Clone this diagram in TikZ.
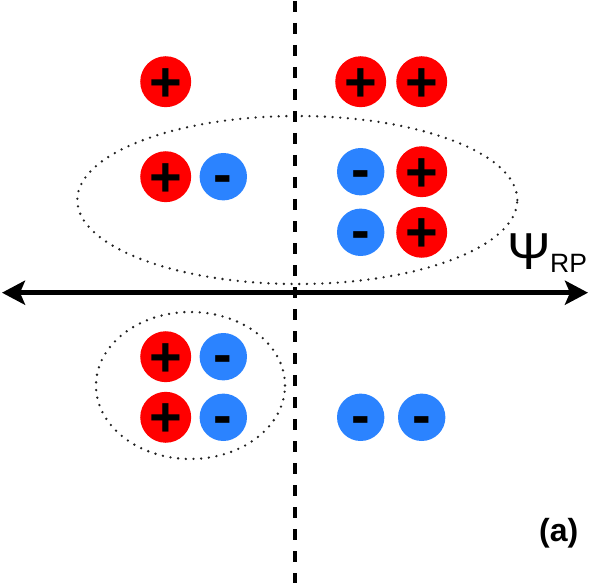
\documentclass[tikz,border=0pt]{standalone}
\usepackage{fontspec}
\setmainfont{Liberation Sans}
\usetikzlibrary{arrows.meta}
\definecolor{cred}{HTML}{FF0000}
\definecolor{cblue}{HTML}{2B83FF}
\definecolor{cdot}{HTML}{222222}
\tikzset{
  chg/.style={circle, minimum size=47.4pt, inner sep=0pt, text=black,
    font=\fontsize{56}{56}\selectfont\bfseries},
  poschg/.style={chg, fill=cred, text height=39pt, text depth=0pt},
  negchg/.style={chg, fill=cblue, text height=34pt, text depth=0pt},
  dotline/.style={draw=cdot, line width=2.6pt, line cap=round, dash pattern=on 0pt off 7.7pt},
  vdash/.style={line width=3.6pt, dash pattern=on 10.7pt off 11.3pt},
  axis/.style={line width=4.6pt, {Stealth[length=23pt,width=24pt,inset=5pt]}-{Stealth[length=23pt,width=24pt,inset=5pt]}},
}
\begin{document}
\begin{tikzpicture}[x=1pt,y=-1pt]
\useasboundingbox (0,0) rectangle (600,583);
% ellipses
\draw[dotline] (297.3,200) ellipse [x radius=220pt, y radius=84pt];
\draw[dotline] (190.5,385.5) ellipse [x radius=94.5pt, y radius=73.5pt];
% axes
\coordinate (vT) at (295,1);
\coordinate (vB) at (295,583);
\draw[vdash] (vT) -- (vB);
\coordinate (aL) at (2,292.7);
\coordinate (aR) at (588,292.7);
\draw[axis] (aL) -- (aR);
% charges
\node[poschg] (p1) at (165.7,81.7) {+};
\node[poschg] (p2) at (360.7,81.7) {+};
\node[poschg] (p3) at (421.7,81.7) {+};
\node[poschg] (p4) at (165.7,176.7) {+};
\node[negchg] (n1) at (223.3,176.7) {-};
\node[negchg] (n2) at (360.7,171.7) {-};
\node[poschg] (p5) at (421.7,171.7) {+};
\node[negchg] (n3) at (360.7,232.3) {-};
\node[poschg] (p6) at (421.7,232.3) {+};
\node[poschg] (p7) at (165.7,356.7) {+};
\node[negchg] (n4) at (223.3,356.7) {-};
\node[poschg] (p8) at (165.7,417.3) {+};
\node[negchg] (n5) at (223.3,417.3) {-};
\node[negchg] (n6) at (360.7,417.3) {-};
\node[negchg] (n7) at (421.7,417.3) {-};
% labels
\node[anchor=base west, inner sep=0pt, font=\fontsize{52}{52}\selectfont] (psi) at (507,269) {Ψ};
\node[anchor=base west, inner sep=0pt, font=\fontsize{26.5}{26.5}\selectfont] (rp) at (550,272) {RP};
\node[anchor=base west, inner sep=0pt, font=\fontsize{32}{32}\selectfont\bfseries] (lab) at (539,541) {(a)};
\end{tikzpicture}
\end{document}
